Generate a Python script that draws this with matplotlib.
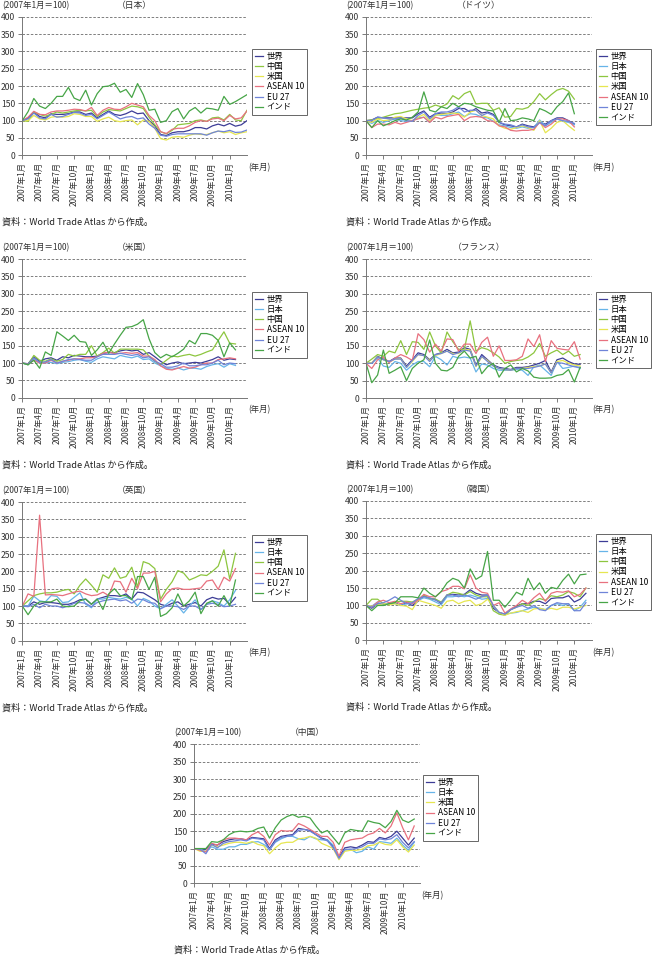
import matplotlib.pyplot as plt

plt.rcParams['font.family'] = ['Noto Sans CJK JP', 'DejaVu Sans']

# months 2007/1 ... ; ticks every 3 months
tick_pos = list(range(0, 37, 3))
tick_labels = ['2007年1月', '2007年4月', '2007年7月', '2007年10月',
               '2008年1月', '2008年4月', '2008年7月', '2008年10月',
               '2009年1月', '2009年4月', '2009年7月', '2009年10月',
               '2010年1月']

# ---- 日本 ----
jp_world = [100, 108, 125, 112, 108, 120, 118, 118, 120, 125,
            125, 118, 122, 108, 118, 128, 118, 115, 120, 128,
            120, 122, 100, 85, 60, 57, 65, 68, 68, 72,
            80, 80, 76, 85, 90, 85, 92, 84, 88, 100]
jp_china = [100, 98, 125, 118, 113, 118, 125, 122, 125, 128,
            130, 128, 130, 112, 125, 132, 130, 128, 135, 142,
            140, 135, 110, 88, 68, 62, 72, 88, 90, 92,
            100, 102, 98, 108, 110, 102, 118, 102, 100, 130]
jp_us = [100, 100, 115, 105, 102, 110, 112, 110, 112, 120,
         118, 112, 112, 98, 105, 110, 100, 97, 100, 102,
         88, 102, 98, 78, 48, 44, 52, 54, 52, 58,
         62, 60, 60, 65, 70, 65, 68, 60, 65, 68]
jp_asean = [100, 110, 127, 118, 117, 125, 128, 128, 130, 133,
            132, 128, 138, 115, 130, 138, 133, 132, 140, 150,
            145, 140, 115, 100, 68, 63, 75, 78, 78, 85,
            95, 100, 98, 105, 107, 100, 115, 105, 108, 128]
jp_eu = [100, 105, 122, 108, 105, 118, 110, 112, 118, 124,
         122, 115, 118, 105, 115, 125, 115, 105, 110, 112,
         105, 108, 90, 78, 58, 55, 60, 62, 62, 62,
         62, 62, 58, 65, 70, 68, 72, 66, 67, 73]
jp_india = [100, 126, 164, 142, 135, 150, 170, 170, 196, 165,
            158, 188, 145, 178, 198, 200, 208, 182, 190, 167,
            207, 175, 130, 133, 95, 100, 126, 135, 105, 128,
            138, 122, 136, 134, 130, 170, 147, 155, 165, 175]

# ---- ドイツ ----
de_world = [100, 102, 110, 108, 108, 108, 108, 108, 108, 120,
            128, 110, 120, 122, 120, 125, 135, 135, 125, 135,
            122, 125, 118, 95, 88, 85, 82, 90, 85, 82,
            95, 90, 100, 108, 108, 100, 90]
de_japan = [100, 92, 100, 95, 100, 105, 100, 98, 100, 108,
            110, 95, 118, 115, 115, 120, 125, 112, 120, 118,
            110, 108, 98, 88, 85, 80, 78, 82, 78, 80,
            102, 85, 95, 105, 98, 95, 88]
de_china = [100, 102, 106, 110, 115, 120, 122, 126, 130, 133,
            136, 138, 145, 140, 148, 172, 162, 178, 185, 148,
            150, 150, 130, 137, 110, 112, 135, 133, 138, 155,
            178, 160, 175, 188, 193, 185, 162]
de_us = [100, 95, 105, 100, 102, 110, 112, 105, 100, 110,
         118, 100, 115, 118, 120, 122, 120, 110, 125, 130,
         115, 110, 105, 85, 78, 75, 80, 85, 80, 72,
         100, 65, 78, 95, 100, 85, 72]
de_asean = [100, 80, 90, 90, 88, 95, 90, 95, 100, 105,
            110, 95, 110, 105, 112, 115, 118, 100, 110, 112,
            110, 100, 98, 85, 82, 72, 70, 72, 72, 75,
            95, 80, 90, 105, 105, 100, 82]
de_eu = [100, 100, 110, 108, 105, 105, 108, 100, 98, 115,
         125, 105, 120, 125, 125, 130, 140, 125, 130, 130,
         115, 122, 115, 95, 90, 88, 82, 88, 82, 80,
         95, 85, 100, 105, 100, 98, 92]
de_india = [100, 80, 100, 85, 92, 100, 105, 102, 110, 125,
            183, 130, 125, 140, 135, 150, 140, 150, 148, 140,
            135, 130, 128, 95, 135, 100, 102, 108, 105, 100,
            135, 128, 118, 140, 155, 180, 120]

# ---- 米国 ----
us_world = [100, 98, 118, 105, 112, 115, 108, 118, 115, 122,
            120, 118, 118, 120, 128, 130, 130, 135, 138, 135,
            137, 125, 130, 118, 105, 95, 100, 103, 98, 100,
            102, 100, 105, 110, 118, 108, 112, 110]
us_japan = [100, 95, 112, 100, 100, 102, 98, 102, 104, 108,
            110, 105, 102, 112, 118, 115, 112, 122, 118, 115,
            120, 110, 112, 100, 92, 85, 82, 86, 80, 85,
            85, 82, 90, 95, 98, 88, 98, 93]
us_china = [100, 95, 122, 108, 105, 112, 105, 110, 125, 120,
            125, 125, 150, 120, 130, 143, 128, 140, 140, 140,
            140, 138, 120, 105, 95, 108, 120, 118, 122, 125,
            120, 125, 132, 138, 165, 190, 157, 155]
us_asean = [100, 97, 108, 100, 100, 108, 100, 105, 108, 112,
            112, 115, 115, 118, 128, 132, 127, 128, 130, 128,
            130, 120, 120, 110, 92, 82, 80, 85, 90, 85,
            88, 95, 100, 100, 110, 112, 115, 112]
us_eu = [100, 96, 115, 102, 103, 110, 100, 105, 110, 112,
         110, 108, 108, 118, 125, 125, 125, 128, 125, 122,
         125, 115, 118, 105, 98, 88, 88, 92, 100, 92,
         92, 95, 95, 100, 108, 95, 100, 98]
us_india = [100, 95, 108, 85, 132, 122, 190, 178, 165, 180,
            162, 160, 122, 138, 160, 128, 155, 180, 203, 205,
            212, 225, 170, 130, 115, 125, 118, 128, 140, 165,
            155, 185, 185, 180, 165, 118, 158, 138]

# ---- フランス ----
fr_world = [100, 100, 120, 112, 105, 115, 115, 92, 110, 130,
            125, 110, 125, 130, 140, 130, 132, 145, 140, 95,
            125, 110, 95, 88, 85, 82, 88, 88, 90, 95,
            100, 108, 75, 110, 115, 105, 98, 97]
fr_japan = [100, 100, 115, 92, 88, 105, 100, 80, 95, 105,
            105, 90, 120, 110, 95, 120, 115, 118, 115, 75,
            98, 95, 85, 80, 80, 80, 82, 80, 65, 90,
            95, 80, 65, 105, 85, 88, 92, 85]
fr_china = [100, 112, 125, 120, 135, 130, 165, 125, 162, 160,
            140, 190, 150, 130, 190, 162, 140, 140, 222, 135,
            145, 140, 130, 118, 100, 105, 108, 110, 118, 130,
            157, 120, 130, 138, 125, 135, 120, 125]
fr_us = [100, 102, 118, 110, 103, 112, 113, 88, 105, 125,
         122, 108, 122, 128, 135, 128, 128, 140, 138, 90,
         118, 108, 92, 85, 82, 80, 85, 85, 88, 90,
         92, 98, 72, 105, 108, 100, 95, 92]
fr_asean = [100, 85, 110, 118, 102, 115, 125, 118, 108, 185,
            168, 132, 155, 135, 170, 168, 135, 155, 155, 128,
            160, 175, 120, 150, 108, 108, 110, 120, 170, 148,
            182, 105, 165, 143, 140, 138, 162, 112]
fr_eu = [100, 100, 118, 110, 105, 112, 112, 88, 108, 125,
         122, 105, 125, 128, 135, 125, 130, 138, 135, 92,
         120, 105, 92, 85, 82, 80, 85, 85, 85, 88,
         92, 98, 72, 102, 100, 95, 90, 88]
fr_india = [100, 44, 66, 138, 71, 80, 90, 50, 85, 100,
            110, 167, 100, 80, 78, 88, 120, 135, 115, 120,
            70, 90, 100, 60, 85, 95, 75, 85, 78, 60,
            57, 57, 58, 65, 68, 82, 46, 88]

# ---- 英国 ----
uk_world = [100, 100, 112, 105, 110, 110, 108, 105, 105, 110,
            118, 120, 105, 120, 125, 130, 130, 128, 135, 120,
            140, 138, 128, 118, 105, 100, 108, 112, 100, 105,
            110, 100, 118, 125, 120, 122, 105, 125]
uk_japan = [100, 100, 128, 115, 112, 130, 128, 110, 112, 125,
            138, 105, 95, 120, 120, 125, 122, 120, 125, 120,
            100, 122, 115, 100, 92, 105, 118, 100, 80, 100,
            118, 90, 105, 115, 110, 100, 118, 145]
uk_china = [100, 115, 130, 135, 138, 138, 140, 145, 148, 135,
            160, 178, 160, 140, 190, 180, 210, 180, 185, 212,
            155, 228, 222, 208, 120, 148, 170, 202, 195, 175,
            182, 190, 188, 200, 215, 262, 178, 252]
uk_asean = [100, 135, 128, 362, 132, 133, 132, 130, 135, 140,
            143, 135, 130, 132, 140, 130, 172, 170, 140, 180,
            150, 195, 195, 200, 112, 135, 150, 152, 148, 148,
            150, 152, 172, 175, 148, 183, 172, 208]
uk_eu = [100, 98, 105, 95, 105, 100, 100, 95, 100, 108,
         110, 108, 98, 110, 115, 118, 120, 115, 118, 108,
         120, 118, 110, 108, 92, 100, 100, 98, 90, 100,
         100, 90, 105, 108, 105, 98, 100, 105]
uk_india = [100, 75, 100, 112, 112, 112, 120, 100, 98, 100,
            115, 120, 105, 120, 90, 135, 150, 130, 130, 118,
            185, 185, 148, 183, 70, 78, 95, 135, 100, 115,
            140, 78, 108, 115, 100, 130, 100, 175]

# ---- 韓国 ----
kr_world = [100, 92, 105, 102, 105, 108, 100, 108, 100, 112,
            128, 120, 118, 105, 130, 132, 130, 132, 145, 135,
            130, 130, 92, 80, 75, 88, 98, 105, 105, 112,
            112, 105, 120, 122, 122, 128, 110, 118, 135]
kr_japan = [100, 98, 110, 100, 108, 105, 100, 105, 105, 115,
            122, 118, 110, 102, 125, 125, 128, 125, 130, 125,
            118, 120, 100, 78, 75, 78, 80, 85, 90, 95,
            92, 88, 100, 105, 100, 105, 85, 95, 115]
kr_china = [100, 118, 118, 105, 102, 110, 112, 112, 110, 118,
            130, 120, 118, 110, 130, 138, 135, 130, 140, 130,
            125, 125, 85, 75, 72, 88, 95, 105, 100, 110,
            120, 115, 128, 125, 130, 140, 135, 125, 150]
kr_us = [100, 98, 102, 105, 102, 105, 100, 98, 88, 115,
         110, 105, 100, 92, 112, 115, 105, 112, 115, 100,
         105, 118, 100, 80, 72, 78, 82, 85, 80, 90,
         92, 88, 92, 88, 95, 95, 90, 95, 100]
kr_asean = [100, 95, 110, 115, 108, 112, 105, 110, 105, 115,
            132, 125, 125, 140, 145, 155, 155, 148, 188, 150,
            138, 135, 100, 108, 78, 90, 100, 115, 105, 122,
            135, 112, 135, 140, 138, 142, 125, 132, 150]
kr_eu = [100, 95, 105, 108, 115, 125, 115, 105, 108, 120,
         125, 122, 115, 108, 130, 130, 125, 130, 125, 118,
         125, 130, 100, 80, 75, 88, 95, 100, 92, 100,
         88, 85, 100, 108, 105, 105, 85, 85, 108]
kr_india = [100, 85, 100, 100, 105, 108, 125, 125, 125, 122,
            150, 135, 125, 140, 165, 178, 172, 150, 205, 175,
            185, 255, 115, 115, 95, 115, 138, 130, 178, 145,
            165, 135, 152, 148, 172, 190, 162, 188, 190]

# ---- 中国 ----
cn_world = [100, 98, 98, 112, 110, 120, 125, 128, 128, 125,
            132, 130, 128, 100, 125, 135, 138, 140, 158, 155,
            152, 140, 130, 125, 105, 75, 102, 105, 102, 110,
            120, 118, 132, 128, 135, 150, 130, 110, 130]
cn_japan = [100, 98, 92, 105, 98, 98, 105, 105, 112, 112,
            118, 120, 112, 98, 118, 128, 135, 135, 128, 125,
            135, 128, 125, 125, 110, 70, 95, 98, 88, 92,
            105, 98, 120, 118, 115, 130, 110, 95, 118]
cn_us = [100, 92, 92, 110, 105, 110, 115, 118, 118, 115,
         120, 112, 108, 85, 102, 115, 118, 118, 128, 130,
         135, 130, 115, 108, 100, 68, 92, 95, 95, 98,
         108, 110, 118, 112, 110, 125, 105, 90, 110]
cn_asean = [100, 95, 90, 115, 110, 125, 130, 130, 128, 125,
            140, 148, 135, 110, 140, 152, 150, 152, 172, 165,
            155, 145, 135, 135, 118, 78, 118, 125, 128, 130,
            140, 145, 158, 145, 165, 203, 160, 125, 165]
cn_eu = [100, 98, 85, 112, 102, 115, 120, 122, 125, 122,
         130, 128, 125, 95, 120, 132, 135, 138, 152, 155,
         150, 140, 128, 122, 102, 72, 98, 98, 100, 105,
         115, 115, 128, 125, 128, 140, 118, 102, 120]
cn_india = [100, 100, 100, 120, 118, 125, 140, 148, 150, 148,
            150, 158, 162, 130, 160, 182, 192, 198, 190, 193,
            188, 165, 145, 152, 132, 112, 145, 155, 152, 150,
            180, 175, 172, 160, 178, 210, 182, 175, 185]

colors = {
    '世界': '#3c3c96',
    '日本': '#67b4e8',
    '中国': '#8dc63f',
    '米国': '#e6e650',
    'ASEAN 10': '#e8717f',
    'EU 27': '#6f84d8',
    'インド': '#47a547',
}

# figure is 653 x 955 px, so positions below are in pixels
W, H = 653, 955


def px_rect(l, t, r, b):
    return [l / W, 1 - b / H, (r - l) / W, (b - t) / H]


def draw_panel(fig, box, title, series, legend_xy):
    l, t, r, b = box
    ax = fig.add_axes(px_rect(l, t, r, b))
    for label, vals in series:
        ax.plot(range(len(vals)), vals, color=colors[label], lw=0.9, label=label)
    ax.set_xlim(0, 39)
    ax.set_ylim(0, 400)
    ax.set_yticks(range(0, 401, 50))
    ax.set_xticks(tick_pos)
    ax.set_xticklabels(tick_labels, rotation=90, fontsize=5.9, color='#333333')
    ax.tick_params(axis='y', labelsize=6.2, labelcolor='#333333', length=3,
                   width=0.6, color='#666666', pad=2)
    ax.tick_params(axis='x', length=3, width=0.6, color='#666666', pad=2)
    ax.yaxis.grid(True, linestyle=(0, (3, 2)), color='#6a6a6a', lw=0.6)
    ax.set_axisbelow(True)
    for s in ('top', 'right'):
        ax.spines[s].set_visible(False)
    for s in ('left', 'bottom'):
        ax.spines[s].set_color('#777777')
        ax.spines[s].set_linewidth(0.7)

    # texts around the plot
    fig.text((l - 20) / W, 1 - (t - 11.5) / H, '(2007年1月＝100)',
             fontsize=6.0, ha='left', va='center', color='#333333')
    fig.text((l + r) / 2 / W, 1 - (t - 11.5) / H, title,
             fontsize=6.3, ha='center', va='center', color='#333333')
    fig.text((r + 1) / W, 1 - (b + 12) / H, '(年月)',
             fontsize=6.0, ha='left', va='center', color='#333333')
    fig.text((l - 20) / W, 1 - (b + 67) / H, '資料：World Trade Atlas から作成。',
             fontsize=6.6, ha='left', va='center', color='#222222')

    leg = ax.legend(loc='upper left', bbox_to_anchor=(legend_xy[0] / W, 1 - legend_xy[1] / H),
                    bbox_transform=fig.transFigure, borderaxespad=0, fontsize=6.0,
                    handlelength=1.0, handletextpad=0.4, borderpad=0.35,
                    labelspacing=0.14, fancybox=False, framealpha=1)
    leg.get_frame().set_edgecolor('#666666')
    leg.get_frame().set_linewidth(0.7)
    return ax


fig = plt.figure(figsize=(6.53, 9.55), dpi=100)

draw_panel(fig, (22.3, 16.7, 247, 155.3), '（日本）',
           [('世界', jp_world), ('中国', jp_china), ('米国', jp_us),
            ('ASEAN 10', jp_asean), ('EU 27', jp_eu), ('インド', jp_india)],
           (252, 49))
draw_panel(fig, (366, 16.7, 591.7, 155.3), '（ドイツ）',
           [('世界', de_world), ('日本', de_japan), ('中国', de_china), ('米国', de_us),
            ('ASEAN 10', de_asean), ('EU 27', de_eu), ('インド', de_india)],
           (596, 49))
draw_panel(fig, (22.3, 259, 247, 397.7), '（米国）',
           [('世界', us_world), ('日本', us_japan), ('中国', us_china),
            ('ASEAN 10', us_asean), ('EU 27', us_eu), ('インド', us_india)],
           (252, 292))
draw_panel(fig, (366, 259, 591.7, 398), '（フランス）',
           [('世界', fr_world), ('日本', fr_japan), ('中国', fr_china), ('米国', fr_us),
            ('ASEAN 10', fr_asean), ('EU 27', fr_eu), ('インド', fr_india)],
           (596, 292))
draw_panel(fig, (22.3, 502, 247, 640.7), '（英国）',
           [('世界', uk_world), ('日本', uk_japan), ('中国', uk_china),
            ('ASEAN 10', uk_asean), ('EU 27', uk_eu), ('インド', uk_india)],
           (252, 535))
draw_panel(fig, (366, 501, 591.7, 640.3), '（韓国）',
           [('世界', kr_world), ('日本', kr_japan), ('中国', kr_china), ('米国', kr_us),
            ('ASEAN 10', kr_asean), ('EU 27', kr_eu), ('インド', kr_india)],
           (596, 534))
draw_panel(fig, (194.3, 744.3, 420, 883.3), '（中国）',
           [('世界', cn_world), ('日本', cn_japan), ('米国', cn_us),
            ('ASEAN 10', cn_asean), ('EU 27', cn_eu), ('インド', cn_india)],
           (423, 775))

fig.savefig('out.png', dpi=100)
